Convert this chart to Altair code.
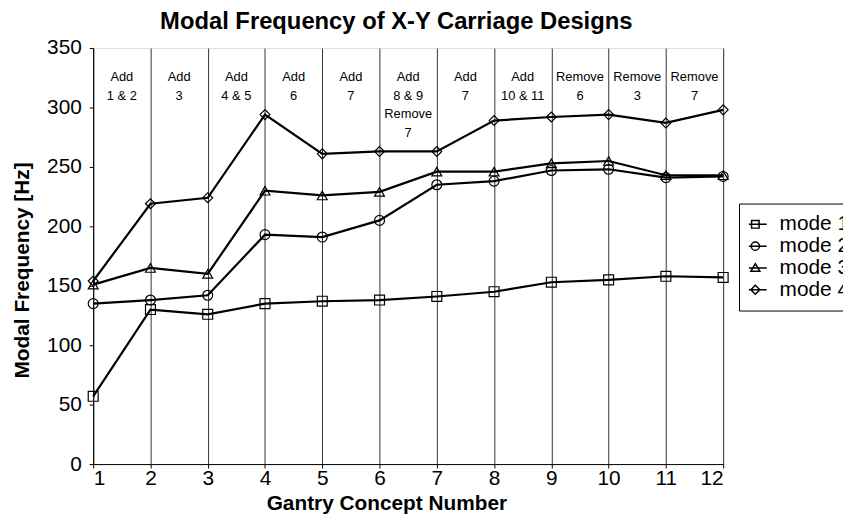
import altair as alt
import pandas as pd

# ---- data ----
concepts = list(range(1, 13))
mode1 = [57, 130, 126, 135, 137, 138, 141, 145, 153, 155, 158, 157]
mode2 = [135, 138, 142, 193, 191, 205, 235, 238, 247, 248, 241, 242]
mode3 = [151, 165, 160, 230, 226, 229, 246, 246, 253, 255, 243, 243]
mode4 = [154, 219, 224, 294, 261, 263, 263, 289, 292, 294, 287, 298]
series_names = ["mode 1", "mode 2", "mode 3", "mode 4"]
annotations = [
    "Add\n1 & 2", "Add\n3", "Add\n4 & 5", "Add\n6", "Add\n7",
    "Add\n8 & 9\nRemove\n7", "Add\n7", "Add\n10 & 11",
    "Remove\n6", "Remove\n3", "Remove\n7",
]
y_ticks = [0, 50, 100, 150, 200, 250, 300, 350]
chart_title = "Modal Frequency of X-Y Carriage Designs"

FONT = "Liberation Sans"

rows = []
for name, vals in zip(series_names, [mode1, mode2, mode3, mode4]):
    for c, v in zip(concepts, vals):
        rows.append({"mode": name, "concept": c, "freq": v})
df = pd.DataFrame(rows)

ann_df = pd.DataFrame({
    "pos": [c + 0.5 for c in concepts[:-1]],
    "label": annotations,
})

x_scale = alt.Scale(domain=[1, 12], nice=False, zero=False)
y_scale = alt.Scale(domain=[0, 350], nice=False)

x_enc = alt.X(
    "concept:Q", scale=x_scale,
    axis=alt.Axis(
        values=concepts, grid=True, gridColor="#333333", gridWidth=1,
        title="Gantry Concept Number", titleFontSize=21, titleFontWeight="bold",
        titleFont=FONT, titleColor="black", titleX=296, titleY=46,
        titleBaseline="alphabetic", titleAlign="center",
        labelFontSize=21, labelFont=FONT, labelColor="black", labelPadding=0,
        tickSize=4, tickColor="black", domainColor="black", format="d",
    ),
)
y_enc = alt.Y(
    "freq:Q", scale=y_scale,
    axis=alt.Axis(
        values=y_ticks, grid=False,
        title="Modal Frequency [Hz]", titleFontSize=21, titleFontWeight="bold",
        titleFont=FONT, titleColor="black", titleX=-71, titleY=224,
        titleBaseline="middle", titleAlign="center", titleAngle=270,
        labelFontSize=21, labelFont=FONT, labelColor="black", labelPadding=8,
        tickSize=4, tickColor="black", domainColor="black",
    ),
)

lines = alt.Chart(df).mark_line(color="black", strokeWidth=2.2).encode(
    x=x_enc, y=y_enc, detail="mode:N"
)

marker_shapes = [
    "M-1,-1H1V1H-1Z",
    "circle",
    "triangle-up",
    "diamond",
]
points = alt.Chart(df).mark_point(
    filled=False, color="black", strokeWidth=1.2, size=100, opacity=1
).encode(
    x="concept:Q", y="freq:Q",
    shape=alt.Shape("mode:N", scale=alt.Scale(domain=series_names, range=marker_shapes), legend=None),
)

legend_shapes = [
    "M-1,0H1M-0.33,-0.33H0.33V0.33H-0.33Z",
    "M-1,0H1M-0.36,0A0.36,0.36,0,1,1,0.36,0A0.36,0.36,0,1,1,-0.36,0Z",
    "M-1,0H1M0,-0.38L0.4,0.3H-0.4Z",
    "M-1,0H1M0,-0.4L0.4,0L0,0.4L-0.4,0Z",
]
legend_layer = alt.Chart(df).transform_filter("false").mark_point(
    filled=False, color="black", strokeWidth=1.5, opacity=1
).encode(
    x="concept:Q", y="freq:Q",
    shape=alt.Shape(
        "mode:N",
        scale=alt.Scale(domain=series_names, range=legend_shapes),
        legend=alt.Legend(
            title=None, orient="none", legendX=652, legendY=157,
            symbolSize=529, symbolStrokeColor="black", symbolStrokeWidth=1.5,
            symbolFillColor="transparent", symbolOffset=-6,
            labelFont=FONT, labelFontSize=21, labelColor="black", labelOffset=12,
            strokeColor="black", fillColor="white", padding=10,
            rowPadding=0, clipHeight=22,
        ),
    ),
)

ann = alt.Chart(ann_df).mark_text(
    font=FONT, fontSize=13, lineBreak="\n", lineHeight=19,
    baseline="top", align="center", color="black",
).encode(
    x=alt.X("pos:Q", scale=x_scale),
    y=alt.value(23),
    text="label:N",
)

title_layer = alt.Chart(pd.DataFrame({"t": [chart_title]})).mark_text(
    font=FONT, fontSize=24, fontWeight="bold", color="black",
    align="center", baseline="alphabetic",
).encode(
    x=alt.value(306), y=alt.value(-19), text="t:N"
)

chart = (
    alt.layer(lines, points, legend_layer, ann, title_layer)
    .resolve_scale(shape="independent")
    .resolve_legend(shape="independent")
    .properties(
        width=636, height=420,
        padding={"left": 86, "top": 38, "right": 121, "bottom": 51},
        autosize=alt.AutoSizeParams(type="none"),
    )
    .configure_view(stroke="#888888", strokeWidth=1)
    .configure(background="white")
)

chart.save("out.html", embed_options={"renderer": "svg", "actions": False})
